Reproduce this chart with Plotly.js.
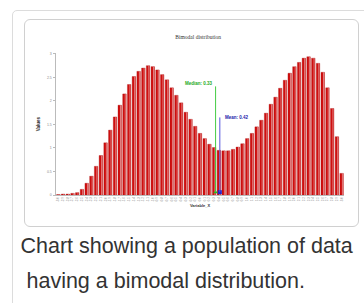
<!DOCTYPE html>
<html>
<head>
<meta charset="utf-8">
<script src="https://cdn.plot.ly/plotly-3.0.1.min.js"></script>
<style>
  html, body { margin: 0; padding: 0; background: #fff; width: 364px; height: 303px; overflow: hidden; }
  #outer { position: absolute; left: 12px; top: 10px; width: 370px; height: 310px; border: 1px solid #dcdcdc; border-radius: 5px; box-sizing: border-box; }
  #frame { position: absolute; left: 24px; top: 19px; width: 335px; height: 208px; border: 1px solid #d0d0d0; border-radius: 6px; box-sizing: border-box; }
  #chart { position: absolute; left: 25px; top: 20px; width: 333px; height: 206px; }
  .cap { position: absolute; font-family: "Liberation Sans", Arial, sans-serif; font-size: 21.5px; line-height: 20px; color: #333; white-space: pre; }
</style>
</head>
<body>
<div id="outer"></div>
<div id="frame"></div>
<div id="chart"></div>
<div class="cap" style="left:20.5px; top:235.5px;">Chart showing a population of data</div>
<div class="cap" style="left:20.5px; top:270.5px;"> having a bimodal distribution.</div>
<script>
// ---- data ----
const xValues = [-3.0,-2.9,-2.8,-2.7,-2.6,-2.5,-2.4,-2.3,-2.2,-2.1,-2.0,-1.9,-1.8,-1.7,-1.6,-1.5,-1.4,-1.3,-1.2,-1.1,-1.0,-0.9,-0.8,-0.7,-0.6,-0.5,-0.4,-0.3,-0.2,-0.1,0.0,0.1,0.2,0.3,0.4,0.5,0.6,0.7,0.8,0.9,1.0,1.1,1.2,1.3,1.4,1.5,1.6,1.7,1.8,1.9,2.0,2.1,2.2,2.3,2.4,2.5,2.6,2.7,2.8,2.9,3.0];
const xLabels = ["-3.0","-2.9","-2.8","-2.7","-2.6","-2.5","-2.4","-2.3","-2.2","-2.1","-2.0","-1.9","-1.8","-1.7","-1.6","-1.5","-1.4","-1.3","-1.2","-1.1","-1.0","-0.9","-0.8","-0.7","-0.6","-0.5","-0.4","-0.3","-0.2","-0.1","0.0","0.1","0.2","0.3","0.4","0.5","0.6","0.7","0.8","0.9","1.0","1.1","1.2","1.3","1.4","1.5","1.6","1.7","1.8","1.9","2.0","2.1","2.2","2.3","2.4","2.5","2.6","2.7","2.8","2.9","3.0"];
const counts = [0.01,0.02,0.02,0.035,0.05,0.12,0.25,0.40,0.61,0.84,1.11,1.38,1.66,1.91,2.15,2.35,2.52,2.63,2.70,2.75,2.73,2.66,2.56,2.45,2.28,2.12,1.96,1.76,1.61,1.46,1.31,1.20,1.08,1.01,0.95,0.94,0.94,0.97,1.02,1.09,1.20,1.31,1.45,1.59,1.74,1.93,2.08,2.27,2.44,2.59,2.73,2.82,2.91,2.94,2.91,2.80,2.61,2.28,1.84,1.24,0.46];
const yTicks = [0, 0.5, 1, 1.5, 2, 2.5, 3];
const yTickLabels = ["0", "0.5", "1", "1.5", "2", "2.5", "3"];
const medianValue = 0.33;
const meanValue = 0.42;
const medianLabel = "Median: 0.33";
const meanLabel = "Mean: 0.42";
const medianTop = 2.31;
const meanTop = 1.65;
const markerLevel = 0.06;

const traces = [
  {
    type: 'bar', x: xValues, y: counts, width: 0.074, offset: -0.037,
    marker: { color: '#cf0f0f', line: { color: '#a00000', width: 0.3 } },
    hoverinfo: 'none'
  },
  {
    type: 'bar', x: xValues, y: counts, width: 0.02, offset: 0.006,
    marker: { color: 'rgba(235,170,170,0.75)', line: { width: 0 } },
    hoverinfo: 'none'
  },
  {
    type: 'scatter', mode: 'markers', x: [medianValue], y: [markerLevel],
    marker: { color: '#22bb22', size: 4, symbol: 'triangle-up' }, hoverinfo: 'none'
  },
  {
    type: 'scatter', mode: 'markers', x: [meanValue], y: [markerLevel],
    marker: { color: '#2222cc', size: 4, symbol: 'square' }, hoverinfo: 'none'
  }
];

const layout = {
  width: 333, height: 206,
  barmode: 'overlay',
  margin: { l: 31, r: 13.5, t: 33.3, b: 31 },
  paper_bgcolor: 'rgba(0,0,0,0)', plot_bgcolor: 'rgba(0,0,0,0)',
  showlegend: false,
  title: { text: 'Bimodal distribution', font: { family: 'Liberation Serif, serif', size: 5.5, color: '#333' }, x: 0.52, xanchor: 'center', y: 0.915, yanchor: 'middle' },
  xaxis: {
    range: [-3.05, 3.05], tickvals: xValues, ticktext: xLabels, tickangle: -90,
    tickfont: { family: 'Liberation Sans, Arial', size: 3, color: '#888' },
    showline: true, linecolor: '#bbbbbb', linewidth: 1, showgrid: false, zeroline: false,
    ticks: '', fixedrange: true,
    title: { text: 'Variable_X', font: { family: 'Liberation Sans, Arial', size: 4, color: '#333', weight: 'bold' }, standoff: 2 }
  },
  yaxis: {
    range: [0, 3.02], tickvals: yTicks, ticktext: yTickLabels,
    tickfont: { family: 'Liberation Sans, Arial', size: 3.5, color: '#888' },
    showline: true, linecolor: '#bbbbbb', linewidth: 1.5, showgrid: false, zeroline: false,
    ticks: 'outside', ticklen: 2, tickcolor: '#bbbbbb', fixedrange: true,
    title: { text: 'Values', font: { family: 'Liberation Sans, Arial', size: 4.5, color: '#222', weight: 'bold' }, standoff: 6 }
  },
  shapes: [
    { type: 'line', xref: 'x', yref: 'y', x0: medianValue, x1: medianValue, y0: markerLevel, y1: medianTop, line: { color: '#44cc44', width: 1 } },
    { type: 'line', xref: 'x', yref: 'y', x0: meanValue, x1: meanValue, y0: markerLevel, y1: meanTop, line: { color: '#5555dd', width: 1 } }
  ],
  annotations: [
    { xref: 'x', yref: 'y', x: medianValue, y: medianTop, text: medianLabel, showarrow: false, xanchor: 'right', yanchor: 'bottom', xshift: -1, yshift: -2,
      font: { family: 'Liberation Sans, Arial', size: 4.5, color: '#22aa22', weight: 'bold' } },
    { xref: 'x', yref: 'y', x: meanValue, y: meanTop, text: meanLabel, showarrow: false, xanchor: 'left', yanchor: 'middle', xshift: 3,
      font: { family: 'Liberation Sans, Arial', size: 4.5, color: '#2222aa', weight: 'bold' } }
  ]
};

Plotly.newPlot('chart', traces, layout, { staticPlot: true, displayModeBar: false });
</script>
</body>
</html>
